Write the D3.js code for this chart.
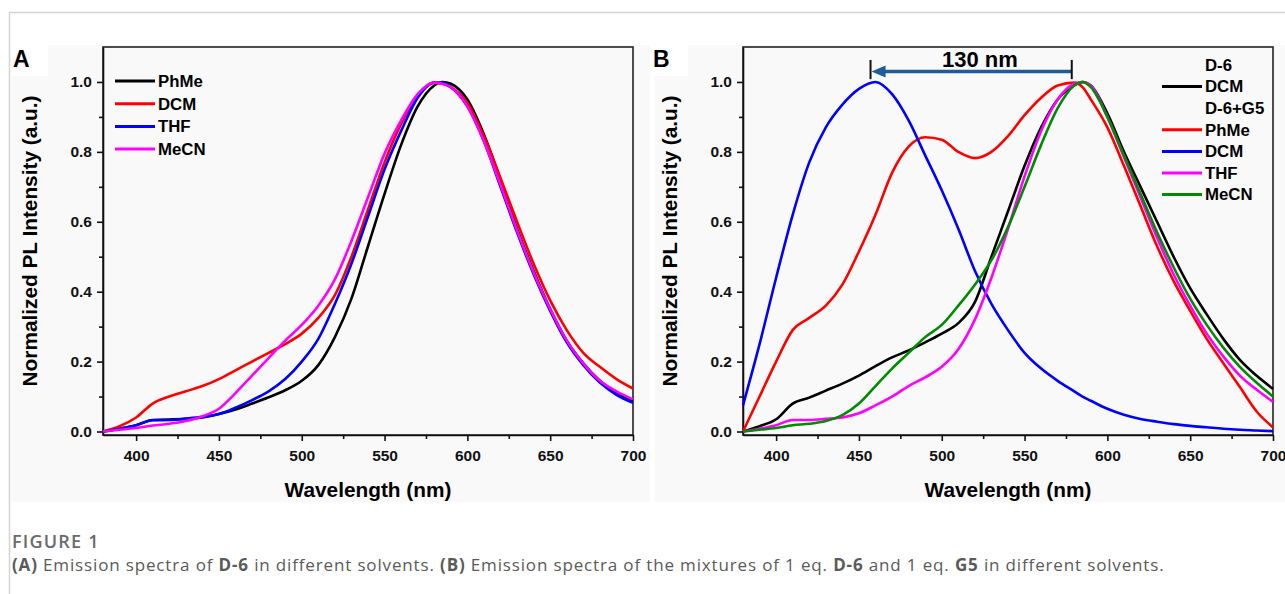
<!DOCTYPE html>
<html>
<head>
<meta charset="utf-8">
<script src="https://cdn.jsdelivr.net/npm/d3@7"></script>
<style>
  body { margin: 0; background: #fff; }
  #svg-container { width: 1285px; height: 594px; }
  .axis text { font-family: "Liberation Sans", Arial, sans-serif; font-weight: bold; font-size: 15.5px; fill: #111; }
  .axis path, .axis line { stroke: #111; stroke-width: 1.6; }
</style>
</head>
<body>
<div id="svg-container"></div>
<script>
////////////////////////////  Data  ////////////////////////////
const wavelength = [380, 390, 400, 410, 420, 430, 440, 450, 460, 470, 480, 490, 500, 510, 520, 530, 540, 550, 560, 570, 580, 585, 590, 600, 610, 620, 630, 640, 650, 660, 670, 680, 690, 700];

// (A) D-6 in solvents
const aPhMe = [0, 0.008, 0.018, 0.033, 0.034, 0.036, 0.04, 0.05, 0.063, 0.08, 0.098, 0.118, 0.145, 0.19, 0.27, 0.38, 0.53, 0.68, 0.82, 0.93, 0.99, 1.0, 0.995, 0.95, 0.85, 0.72, 0.58, 0.46, 0.35, 0.26, 0.195, 0.145, 0.11, 0.088];
const aDCM = [0, 0.015, 0.04, 0.08, 0.1, 0.115, 0.13, 0.15, 0.175, 0.2, 0.225, 0.25, 0.28, 0.325, 0.39, 0.5, 0.635, 0.77, 0.88, 0.96, 0.998, 0.995, 0.985, 0.94, 0.845, 0.725, 0.6, 0.48, 0.375, 0.29, 0.225, 0.185, 0.15, 0.123];
const aTHF = [0, 0.008, 0.018, 0.032, 0.033, 0.037, 0.042, 0.05, 0.068, 0.09, 0.115, 0.15, 0.2, 0.265, 0.365, 0.48, 0.615, 0.75, 0.86, 0.955, 0.998, 0.998, 0.985, 0.93, 0.83, 0.7, 0.57, 0.45, 0.345, 0.255, 0.19, 0.14, 0.105, 0.082];
const aMeCN = [0, 0.005, 0.01, 0.017, 0.022, 0.03, 0.043, 0.065, 0.11, 0.16, 0.21, 0.26, 0.305, 0.36, 0.435, 0.545, 0.67, 0.795, 0.89, 0.965, 0.998, 0.995, 0.985, 0.93, 0.83, 0.705, 0.575, 0.455, 0.35, 0.26, 0.195, 0.145, 0.115, 0.092];

// (B) D-6 in DCM, D-6+G5 in solvents
const bD6DCM = [0, 0.015, 0.035, 0.08, 0.097, 0.117, 0.137, 0.16, 0.187, 0.212, 0.232, 0.255, 0.28, 0.31, 0.37, 0.5, 0.63, 0.76, 0.87, 0.95, 0.99, 1.0, 0.99, 0.91, 0.8, 0.7, 0.6, 0.5, 0.41, 0.335, 0.265, 0.205, 0.16, 0.122];
const bPhMe = [0, 0.1, 0.2, 0.29, 0.325, 0.36, 0.42, 0.515, 0.62, 0.74, 0.815, 0.842, 0.835, 0.8, 0.782, 0.8, 0.845, 0.905, 0.955, 0.99, 0.998, 0.985, 0.95, 0.87, 0.76, 0.645, 0.53, 0.43, 0.345, 0.265, 0.195, 0.127, 0.058, 0.012];
const bDCM = [0.075, 0.25, 0.44, 0.62, 0.77, 0.87, 0.935, 0.98, 1.0, 0.965, 0.89, 0.79, 0.69, 0.58, 0.46, 0.365, 0.29, 0.225, 0.18, 0.145, 0.115, 0.1, 0.088, 0.065, 0.048, 0.036, 0.028, 0.021, 0.016, 0.012, 0.008, 0.005, 0.003, 0.001];
const bTHF = [0, 0.008, 0.018, 0.033, 0.033, 0.036, 0.04, 0.052, 0.075, 0.1, 0.13, 0.155, 0.185, 0.235, 0.32, 0.44, 0.58, 0.73, 0.86, 0.95, 0.995, 1.0, 0.99, 0.9, 0.785, 0.67, 0.555, 0.45, 0.36, 0.28, 0.215, 0.16, 0.12, 0.085];
const bMeCN = [0, 0.005, 0.01, 0.018, 0.022, 0.03, 0.047, 0.08, 0.13, 0.18, 0.225, 0.27, 0.305, 0.36, 0.42, 0.49, 0.585, 0.7, 0.82, 0.925, 0.99, 1.0, 0.985, 0.9, 0.79, 0.68, 0.57, 0.47, 0.38, 0.305, 0.24, 0.185, 0.14, 0.1];

// ticks
const xTicks = [400, 450, 500, 550, 600, 650, 700];
const xMinor = [425, 475, 525, 575, 625, 675];
const yTicks = [0, 0.2, 0.4, 0.6, 0.8, 1.0];
const yMinor = [0.1, 0.3, 0.5, 0.7, 0.9];

// legends
const legendA = [
  { label: "PhMe", values: aPhMe, color: "#000000" },
  { label: "DCM", values: aDCM, color: "#ff0000" },
  { label: "THF", values: aTHF, color: "#0000ff" },
  { label: "MeCN", values: aMeCN, color: "#ff00ff" }
];
const legendB = [
  { label: "D-6" },
  { label: "DCM", values: bD6DCM, color: "#000000" },
  { label: "D-6+G5" },
  { label: "PhMe", values: bPhMe, color: "#ff0000" },
  { label: "DCM", values: bDCM, color: "#0000ff" },
  { label: "THF", values: bTHF, color: "#ff00ff" },
  { label: "MeCN", values: bMeCN, color: "#008a00" }
];
// shift marker (nm)
const shiftFrom = 578.5, shiftTo = 457, shiftLabel = "130 nm";

////////////////////////////  Init  ////////////////////////////
const svg = d3.select("#svg-container").append("svg")
  .attr("width", 1285).attr("height", 594);
const font = "'Liberation Sans', Arial, sans-serif";

// page frame
svg.append("path").attr("d", "M9.5,594 V12.5 H1285")
  .attr("fill", "none").attr("stroke", "#d4d4d4").attr("stroke-width", 1.5);

// image backgrounds
svg.append("rect").attr("x", 12).attr("y", 45).attr("width", 638).attr("height", 457).attr("fill", "#f9f9f9");
svg.append("rect").attr("x", 655).attr("y", 45).attr("width", 630).attr("height", 457).attr("fill", "#f9f9f9");

const plotTop = 47, plotBottom = 435;
const yScaleOf = () => d3.scaleLinear().domain([-0.01, 1.1]).range([plotBottom, plotTop]);

function drawPanel(left, right, letter, series) {
  const x = d3.scaleLinear().domain([380, 700]).range([left, right]);
  const y = yScaleOf();
  const g = svg.append("g");

  // panel letter
  g.append("rect").attr("x", left - 91).attr("y", 45).attr("width", 36).attr("height", 31).attr("fill", "#fff");
  g.append("text").attr("x", left - 90).attr("y", 67)
    .attr("font-family", font).attr("font-weight", "bold").attr("font-size", 23)
    .text(letter);

  // plot frame
  g.append("rect").attr("x", left).attr("y", plotTop).attr("width", right - left).attr("height", plotBottom - plotTop)
    .attr("fill", "none").attr("stroke", "#222").attr("stroke-width", 1.6);

  // axes
  g.append("g").attr("class", "axis").attr("transform", `translate(0,${plotBottom})`)
    .call(d3.axisBottom(x).tickValues(xTicks).tickFormat(d3.format("d")).tickSize(6).tickPadding(9).tickSizeOuter(0));
  g.append("g").attr("class", "axis").attr("transform", `translate(0,${plotBottom})`)
    .call(d3.axisBottom(x).tickValues(xMinor).tickFormat("").tickSize(4).tickSizeOuter(0))
    .select(".domain").remove();
  g.append("g").attr("class", "axis").attr("transform", `translate(${left},0)`)
    .call(d3.axisLeft(y).tickValues(yTicks).tickFormat(d3.format(".1f")).tickSize(6).tickPadding(5).tickSizeOuter(0));
  g.append("g").attr("class", "axis").attr("transform", `translate(${left},0)`)
    .call(d3.axisLeft(y).tickValues(yMinor).tickFormat("").tickSize(4).tickSizeOuter(0))
    .select(".domain").remove();

  // titles
  g.append("text").attr("x", (left + right) / 2).attr("y", 497)
    .attr("text-anchor", "middle").attr("font-family", font).attr("font-weight", "bold").attr("font-size", 20.8)
    .text("Wavelength (nm)");
  g.append("text").attr("transform", `translate(${left - 73},${(plotTop + plotBottom) / 2}) rotate(-90)`)
    .attr("text-anchor", "middle").attr("dy", "0.35em").attr("font-family", font).attr("font-weight", "bold").attr("font-size", 20.8)
    .text("Normalized PL Intensity (a.u.)");

  // curves
  const line = d3.line()
    .x((d, i) => x(wavelength[i]))
    .y((d) => y(d))
    .curve(d3.curveMonotoneX);
  series.filter((s) => s.values).forEach((s) => {
    g.append("path").datum(s.values).attr("d", line)
      .attr("fill", "none").attr("stroke", s.color).attr("stroke-width", 2.6);
  });
  return { g, x, y };
}

const pA = drawPanel(103, 633, "A", legendA);
const pB = drawPanel(743, 1273, "B", legendB);

// legend A
legendA.forEach((s, i) => {
  const cy = 81 + i * 22.7;
  pA.g.append("line").attr("x1", 115).attr("x2", 155).attr("y1", cy).attr("y2", cy)
    .attr("stroke", s.color).attr("stroke-width", 3);
  pA.g.append("text").attr("x", 158).attr("y", cy).attr("dy", "0.35em")
    .attr("font-family", font).attr("font-weight", "bold").attr("font-size", 16.8).text(s.label);
});

// legend B
legendB.forEach((s, i) => {
  const cy = 65 + i * 21.6;
  if (s.values) {
    pB.g.append("line").attr("x1", 1162).attr("x2", 1202).attr("y1", cy).attr("y2", cy)
      .attr("stroke", s.color).attr("stroke-width", 3);
  }
  pB.g.append("text").attr("x", 1205).attr("y", cy).attr("dy", "0.35em")
    .attr("font-family", font).attr("font-weight", "bold").attr("font-size", 16.8).text(s.label);
});

// 130 nm shift arrow
const ax1 = pB.x(shiftTo), ax2 = pB.x(shiftFrom), ay = pB.y(1.03);
pB.g.append("line").attr("x1", ax1 + 10).attr("x2", ax2).attr("y1", ay).attr("y2", ay)
  .attr("stroke", "#1f5c99").attr("stroke-width", 3.5);
pB.g.append("path").attr("d", `M${ax1 + 1},${ay} L${ax1 + 15},${ay - 6} L${ax1 + 15},${ay + 6} Z`)
  .attr("fill", "#1f5c99");
[ax1, ax2].forEach((xx) => {
  pB.g.append("line").attr("x1", xx).attr("x2", xx).attr("y1", pB.y(1.063)).attr("y2", pB.y(1.008))
    .attr("stroke", "#111").attr("stroke-width", 2);
});
pB.g.append("text").attr("x", pB.x(523)).attr("y", 66.5).attr("text-anchor", "middle")
  .attr("font-family", font).attr("font-weight", "bold").attr("font-size", 22).text(shiftLabel);

// caption
const cap = "'Open Sans', 'Noto Sans', sans-serif";
svg.append("text").attr("x", 12).attr("y", 548).attr("font-family", cap).attr("font-size", 18).attr("font-weight", 600)
  .attr("letter-spacing", 1.2).attr("fill", "#6a6a6a").text("FIGURE 1");
const capText = svg.append("text").attr("x", 12).attr("y", 571).attr("font-family", cap).attr("font-size", 17)
  .attr("letter-spacing", 0.85).attr("fill", "#5a5a5a");
[["(A)", true], [" Emission spectra of ", false], ["D-6", true], [" in different solvents. ", false], ["(B)", true],
 [" Emission spectra of the mixtures of 1 eq. ", false], ["D-6", true], [" and 1 eq. ", false], ["G5", true], [" in different solvents.", false]]
  .forEach(([t, b]) => {
    capText.append("tspan").attr("font-weight", b ? "bold" : "normal").text(t);
  });
</script>
</body>
</html>
